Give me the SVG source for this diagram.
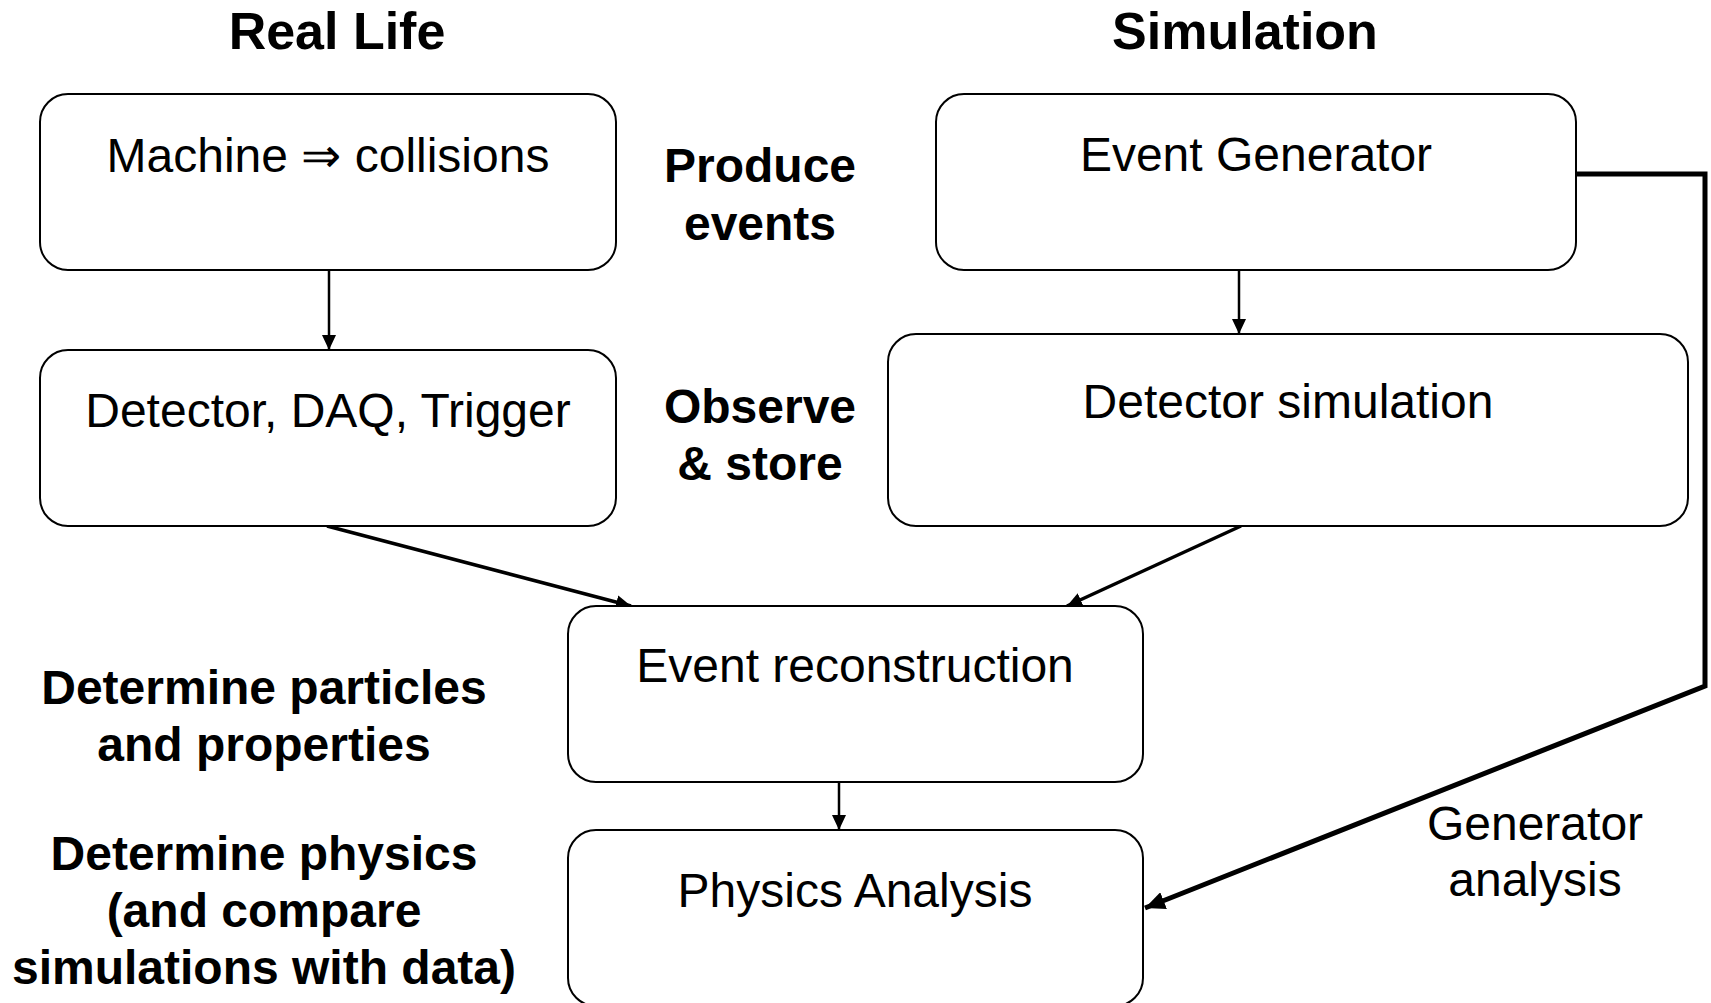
<svg xmlns="http://www.w3.org/2000/svg" width="1711" height="1003" viewBox="0 0 1711 1003">
<style>
  text { font-family: "Liberation Sans", Arial, sans-serif; fill: #000; text-anchor: middle; }
  .reg { font-size: 48px; }
  .bold { font-size: 48px; font-weight: bold; }
  .title { font-size: 52px; font-weight: bold; }
  .box { fill: #fff; stroke: #000; stroke-width: 2; }
  .conn { fill: none; stroke: #000; stroke-width: 2.5; }
  .diag { fill: none; stroke: #000; stroke-width: 3.5; }
  .thick { fill: none; stroke: #000; stroke-width: 5; stroke-linejoin: miter; }
</style>
<defs>
  <marker id="arr" markerUnits="userSpaceOnUse" markerWidth="16" markerHeight="14" refX="15" refY="7" orient="auto">
    <path d="M0,0 L15,7 L0,14 Z" fill="#000"/>
  </marker>
  <marker id="arrBig" markerUnits="userSpaceOnUse" markerWidth="22" markerHeight="18" refX="20" refY="9" orient="auto">
    <path d="M0,0 L20,9 L0,18 Z" fill="#000"/>
  </marker>
</defs>
<rect width="1711" height="1003" fill="#fff"/>

<text class="title" x="337" y="49">Real Life</text>
<text class="title" x="1245" y="49">Simulation</text>

<g id="connectors">
  <line class="conn" x1="329" y1="270" x2="329" y2="350" marker-end="url(#arr)"/>
  <line class="conn" x1="1239" y1="270" x2="1239" y2="334" marker-end="url(#arr)"/>
  <line class="diag" x1="327" y1="526" x2="631" y2="606" marker-end="url(#arr)"/>
  <line class="diag" x1="1241" y1="526" x2="1067" y2="606" marker-end="url(#arr)"/>
  <line class="conn" x1="839" y1="782" x2="839" y2="830" marker-end="url(#arr)"/>
  <polyline class="thick" points="1576,174 1705,174 1705,686 1145,908" marker-end="url(#arrBig)"/>
</g>

<g id="machine">
  <rect class="box" x="40" y="94" width="576" height="176" rx="28"/>
  <text class="reg" x="328" y="172">Machine ⇒ collisions</text>
</g>
<g id="detector">
  <rect class="box" x="40" y="350" width="576" height="176" rx="28"/>
  <text class="reg" x="328" y="427">Detector, DAQ, Trigger</text>
</g>
<g id="event-generator">
  <rect class="box" x="936" y="94" width="640" height="176" rx="28"/>
  <text class="reg" x="1256" y="171">Event Generator</text>
</g>
<g id="detector-simulation">
  <rect class="box" x="888" y="334" width="800" height="192" rx="28"/>
  <text class="reg" x="1288" y="418">Detector simulation</text>
</g>
<g id="event-reconstruction">
  <rect class="box" x="568" y="606" width="575" height="176" rx="28"/>
  <text class="reg" x="855" y="682">Event reconstruction</text>
</g>
<g id="physics-analysis">
  <rect class="box" x="568" y="830" width="575" height="176" rx="28"/>
  <text class="reg" x="855" y="907">Physics Analysis</text>
</g>

<g id="labels">
  <text class="bold" x="760" y="182">Produce</text>
  <text class="bold" x="760" y="240">events</text>
  <text class="bold" x="760" y="423">Observe</text>
  <text class="bold" x="760" y="480">&amp; store</text>
  <text class="bold" x="264" y="704">Determine particles</text>
  <text class="bold" x="264" y="761">and properties</text>
  <text class="bold" x="264" y="870">Determine physics</text>
  <text class="bold" x="264" y="927">(and compare</text>
  <text class="bold" x="264" y="984">simulations with data)</text>
  <text class="reg" x="1535" y="840">Generator</text>
  <text class="reg" x="1535" y="896">analysis</text>
</g>
</svg>
